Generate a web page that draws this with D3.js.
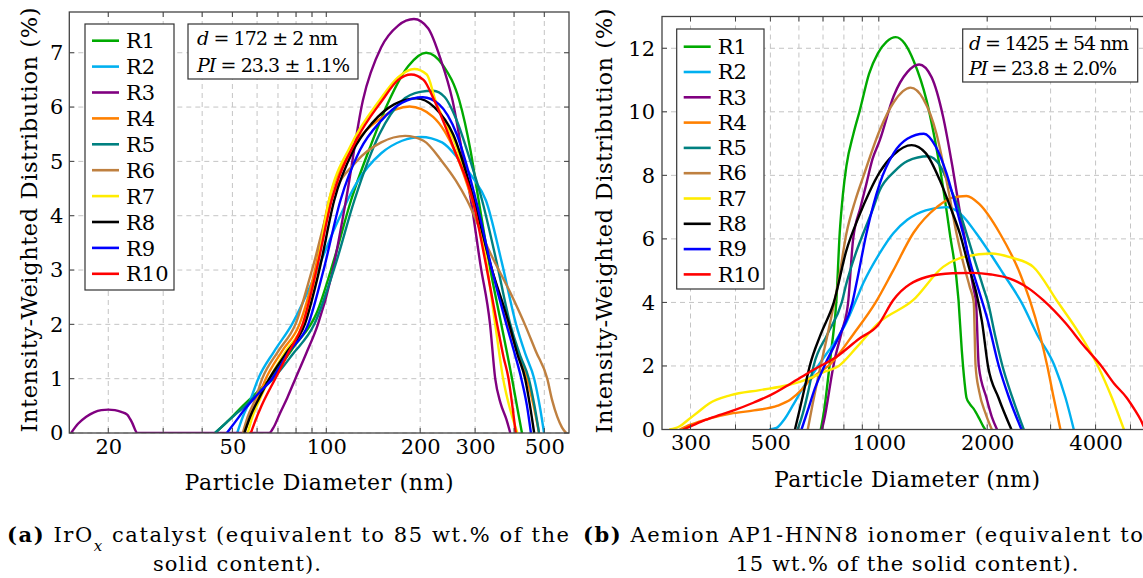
<!DOCTYPE html>
<html>
<head>
<meta charset="utf-8">
<script src="https://cdn.jsdelivr.net/npm/d3@7"></script>
<style>
  body { margin: 0; background: #fff; }
  text { font-family: "DejaVu Serif", "Liberation Serif", serif; fill: #000; }
</style>
</head>
<body>
<div id="chart"></div>
<script>
// ---- data: [diameter (nm), distribution (%)] ----
var runLabels = ["R1", "R2", "R3", "R4", "R5", "R6", "R7", "R8", "R9", "R10"];
var runColors = ["#00aa00", "#00b0f0", "#800080", "#ff8000", "#008080",
                 "#bf8040", "#ffec00", "#000000", "#0000ff", "#ff0000"];

// (a) IrOx catalyst
var iroxR1 = [[44,0],[49,0.25],[54,0.5],[60,0.75],[66,1],[79,1.6],[93,2.2],[106,3.2],[120,4.28],[139,5.3],[159,6.12],[183,6.75],[209,7.0],[238,6.75],[267,6.12],[290,5.2],[308,4.28],[336,3.0],[364,2],[394,1],[410,0.45],[424,0]];
var iroxR2 = [[51.8,0],[54,0.3],[57,0.6],[60.5,1],[68,1.5],[77.6,2],[92,2.9],[107,3.8],[125,4.6],[150,5.15],[175,5.38],[201,5.45],[235,5.35],[265,5.05],[295,4.7],[325,4.28],[365,3.15],[406,2.0],[435,1.45],[464,1],[485,0.45],[499,0]];
var iroxR3 = [[15.2,0],[16,0.17],[17,0.3],[18,0.38],[19,0.42],[20,0.43],[21,0.42],[22,0.39],[23,0.34],[23.8,0.2],[24.8,0],[40,0],[65.6,0],[68,0.12],[71,0.36],[75,0.65],[79.6,1],[86,1.45],[94,2],[104,2.9],[115.6,4.28],[131,6.12],[150,7.1],[170,7.5],[191,7.62],[212,7.45],[232,6.9],[254,6.12],[272,5.2],[291,4.28],[312,3.1],[335,2],[348,1],[362,0.55],[378,0.25],[389,0]];
var iroxR4 = [[54.6,0],[57,0.3],[60,0.6],[64,1],[72,1.5],[82,2],[92,3.0],[102,4.28],[120,5.2],[150,5.8],[185,6.01],[220,5.82],[260,5.15],[294,4.28],[340,3.0],[383,2],[415,1.4],[440,1],[462,0.5],[481,0]];
var iroxR5 = [[44,0],[48,0.2],[52,0.38],[55,0.5],[60,0.72],[67.6,1],[78,1.45],[91.5,2],[107,3.1],[123,4.28],[148,5.5],[175,6.12],[200,6.28],[220,6.3],[240,6.18],[260,5.8],[290,5.0],[316,4.28],[350,3.2],[389,2],[420,1.4],[446,1],[465,0.5],[481,0]];
var iroxR6 = [[54,0],[56,0.3],[59,0.6],[62.3,1],[70,1.5],[79.6,2],[90,3.0],[103.5,4.28],[125,5.0],[150,5.35],[179,5.47],[205,5.38],[235,5.0],[260,4.65],[283,4.28],[330,3.4],[400,2.44],[433,2],[470,1.5],[511,1],[530,0.6],[550,0.3],[570,0.1],[588,0]];
var iroxR7 = [[56,0],[58,0.3],[61,0.6],[65.7,1],[74,1.5],[84,2],[93,3.0],[102,4.28],[120,5.3],[148,6.12],[170,6.55],[191.5,6.7],[210,6.6],[224,6.12],[260,5.3],[296,4.28],[325,3.2],[348,2],[369,1],[390,0.4],[410,0]];
var iroxR8 = [[54.6,0],[57,0.3],[61,0.65],[65.7,1],[75,1.5],[85.3,2],[95,3.0],[106,4.28],[122,5.2],[140,5.7],[165,6.05],[194,6.16],[222,6.0],[255,5.5],[298,4.28],[340,3.0],[372,2.3],[386,2],[410,1.45],[434,1],[450,0.5],[464,0]];
var iroxR9 = [[48,0],[51,0.2],[55,0.45],[60,0.7],[67,1],[76,1.5],[87.5,2],[98,3.0],[111,4.28],[128,5.2],[150,5.75],[175,6.08],[204,6.18],[230,6.05],[262,5.5],[302,4.28],[340,3.0],[378,2],[400,1.5],[422,1],[440,0.5],[453,0]];
var iroxR10 = [[57.3,0],[59,0.2],[62,0.5],[68.6,1],[76,1.5],[84,2],[93,3.0],[104,4.28],[125,5.4],[151,6.12],[170,6.5],[187,6.6],[205,6.5],[222,6.12],[258,5.2],[295,4.28],[325,3.1],[353,2],[370,1.4],[384,1],[396,0.45],[405,0]];

// (b) Aemion AP1-HNN8 ionomer
var ionoR1 = [[690,0],[705,0.6],[722,1.55],[740,2.6],[762,4],[779,6.2],[795,7.4],[813,8.3],[850,9.3],[886,10.05],[940,11.2],[994,11.84],[1050,12.2],[1115,12.35],[1180,12.15],[1250,11.6],[1357,10.36],[1477,8.26],[1575,6.17],[1665,4.07],[1700,2.5],[1730,1.5],[1752,1.0],[1790,0.8],[1835,0.65],[1900,0.35],[1950,0.1],[1975,0]];
var ionoR2 = [[497,0],[520,0.05],[545,0.3],[580,0.8],[615,1.3],[660,1.8],[706,2.29],[760,2.8],[810,3.34],[870,4.15],[905,4.6],[1006,5.55],[1096,6.17],[1200,6.6],[1350,6.9],[1548,7.0],[1700,6.75],[1867,6.17],[2050,5.5],[2215,4.91],[2490,4.0],[2750,3.0],[3078,2],[3300,1.0],[3480,0]];
var ionoR3 = [[695,0],[708,0.4],[722,0.95],[735,1.5],[748,2],[790,3.1],[822,4.0],[848,5.96],[890,7.0],[924,7.74],[960,8.5],[1006,9.1],[1100,10.5],[1200,11.25],[1294,11.49],[1400,11.1],[1509,9.84],[1600,8.3],[1679,6.86],[1760,5.6],[1828,4.49],[1862,4.0],[1895,2],[1990,1],[2060,0.4],[2130,0]];
var ionoR4 = [[280,0],[300,0.15],[340,0.35],[388,0.5],[450,0.6],[524,0.75],[570,0.95],[610,1.25],[643,1.55],[740,2.1],[850,3.0],[980,4.0],[1096,5.0],[1250,6.2],[1450,7.0],[1600,7.3],[1752,7.35],[1900,7.1],[2170,6.17],[2465,4.92],[2627,4.07],[2800,3.0],[2937,2],[3060,1.0],[3195,0]];
var ionoR5 = [[595,0],[615,0.5],[637,1.2],[659,2],[720,3.0],[789,4],[813,4.6],[860,5.5],[905,6.17],[960,6.9],[1006,7.53],[1100,8.1],[1200,8.45],[1371,8.6],[1480,8.3],[1575,7.64],[1660,7.0],[1752,6.17],[1850,5.3],[1948,4.49],[2010,4.0],[2100,3.0],[2205,2],[2350,1.0],[2527,0]];
var ionoR6 = [[635,0],[655,0.8],[680,1.7],[705,2.5],[740,3.6],[771,4.6],[813,6.17],[860,7.2],[905,7.95],[1006,9.42],[1100,10.3],[1225,10.76],[1330,10.4],[1446,9.31],[1550,7.7],[1644,6.17],[1720,5.2],[1789,4.49],[1835,4],[1857,2],[1900,1.2],[1980,0.5],[2060,0]];
var ionoR7 = [[262,0],[280,0.1],[295,0.3],[315,0.55],[338,0.82],[388,1.08],[467,1.24],[561,1.4],[640,1.6],[700,1.8],[774,2.0],[870,2.6],[997,3.35],[1245,4.07],[1509,5.12],[1750,5.45],[2055,5.54],[2350,5.4],[2684,5.12],[3117,4.07],[3702,2.81],[4058,2],[4440,1],[4795,0]];
var ionoR8 = [[585,0],[605,0.7],[625,1.4],[643,2],[690,3.0],[750,4.0],[813,5.64],[880,6.7],[944,7.5],[1006,8.1],[1100,8.65],[1233,8.95],[1350,8.7],[1477,7.85],[1580,7.0],[1679,6.17],[1780,5.1],[1867,4.28],[1934,3.4],[2010,2],[2150,1.0],[2335,0]];
var ionoR9 = [[610,0],[635,0.6],[665,1.3],[706,2],[780,3.0],[845,4.0],[867,4.6],[924,6.17],[1006,7.74],[1100,8.7],[1200,9.15],[1334,9.31],[1440,8.9],[1542,8.06],[1630,7.1],[1714,6.17],[1800,5.2],[1907,4.28],[2000,3.5],[2154,2],[2300,1.0],[2490,0]];
var ionoR10 = [[286,0],[300,0.1],[330,0.3],[360,0.45],[397,0.61],[450,0.85],[500,1.08],[570,1.45],[643,1.81],[774,2.34],[880,2.85],[997,3.3],[1096,4.07],[1357,4.8],[1600,4.92],[1828,4.93],[2050,4.88],[2311,4.75],[2600,4.45],[2862,4.07],[3300,3.35],[3700,2.65],[4150,2],[4500,1.45],[4880,1],[5150,0.6],[5340,0.3],[5480,0.05],[5600,0]];

var iroxRuns = [iroxR1, iroxR2, iroxR3, iroxR4, iroxR5, iroxR6, iroxR7, iroxR8, iroxR9, iroxR10];
var ionoRuns = [ionoR1, ionoR2, ionoR3, ionoR4, ionoR5, ionoR6, ionoR7, ionoR8, ionoR9, ionoR10];

// axes
var iroxXTicks = [20, 50, 100, 200, 300, 500];
var iroxXGrid = [20, 30, 40, 50, 60, 70, 80, 90, 100, 200, 300, 400, 500];
var iroxYTicks = [0, 1, 2, 3, 4, 5, 6, 7];
var ionoXTicks = [300, 500, 1000, 2000, 4000];
var ionoXGrid = [300, 400, 500, 600, 700, 800, 900, 1000, 2000, 3000, 4000, 5000];
var ionoYTicks = [0, 2, 4, 6, 8, 10, 12];

var iroxStats = ["172 \u00b1 2 nm", "23.3 \u00b1 1.1%"];
var ionoStats = ["1425 \u00b1 54 nm", "23.8 \u00b1 2.0%"];

var serif = "'DejaVu Serif', 'Liberation Serif', serif";

var svg = d3.select("#chart").append("svg")
    .attr("width", 1143)
    .attr("height", 578);

function drawPanel(p) {
    var xScale = d3.scaleLog().domain(p.xDomain).range([p.left, p.right]);
    var yScale = d3.scaleLinear().domain(p.yDomain).range([p.bottom, p.top]);
    var g = svg.append("g");

    g.append("clipPath").attr("id", p.id + "-clip")
        .append("rect")
        .attr("x", p.left).attr("y", p.top)
        .attr("width", p.right - p.left).attr("height", p.bottom - p.top);

    // dashed grid
    g.selectAll(".vgrid").data(p.xGrid).enter().append("line")
        .attr("x1", function (d) { return xScale(d); })
        .attr("x2", function (d) { return xScale(d); })
        .attr("y1", p.top).attr("y2", p.bottom)
        .style("stroke", "#c4c4c4").style("stroke-width", 1)
        .style("stroke-dasharray", "5,4");
    g.selectAll(".hgrid").data(p.yTicks).enter().append("line")
        .attr("x1", p.left).attr("x2", p.right)
        .attr("y1", function (d) { return yScale(d); })
        .attr("y2", function (d) { return yScale(d); })
        .style("stroke", "#c4c4c4").style("stroke-width", 1)
        .style("stroke-dasharray", "5,4");

    // curves
    var line = d3.line()
        .x(function (d) { return xScale(d[0]); })
        .y(function (d) { return yScale(d[1]); })
        .curve(d3.curveMonotoneX);
    g.append("g").attr("clip-path", "url(#" + p.id + "-clip)")
        .selectAll("path").data(p.runs).enter().append("path")
        .attr("d", line)
        .style("fill", "none")
        .style("stroke", function (d, i) { return runColors[i]; })
        .style("stroke-width", 2.4)
        .style("stroke-linejoin", "round");

    // frame + inner ticks
    g.append("rect")
        .attr("x", p.left).attr("y", p.top)
        .attr("width", p.right - p.left).attr("height", p.bottom - p.top)
        .style("fill", "none").style("stroke", "#444").style("stroke-width", 1.3);
    var tk = 5;
    g.selectAll(".xtick").data(p.xGrid).enter().append("path")
        .attr("d", function (d) {
            var x = xScale(d);
            return "M" + x + "," + p.bottom + "v" + (-tk) + "M" + x + "," + p.top + "v" + tk;
        })
        .style("stroke", "#444").style("stroke-width", 1);
    g.selectAll(".ytick").data(p.yTicks).enter().append("path")
        .attr("d", function (d) {
            var y = yScale(d);
            return "M" + p.left + "," + y + "h" + tk + "M" + p.right + "," + y + "h" + (-tk);
        })
        .style("stroke", "#444").style("stroke-width", 1);

    // tick labels via d3 axes
    var xAxis = d3.axisBottom(xScale).tickValues(p.xTicks)
        .tickFormat(d3.format("d")).tickSize(0).tickPadding(6);
    var gx = g.append("g").attr("transform", "translate(0," + p.bottom + ")").call(xAxis);
    gx.select(".domain").remove();
    gx.selectAll("text").style("font-size", "21px")
        .style("font-family", serif).attr("fill", "#000");

    var yAxis = d3.axisLeft(yScale).tickValues(p.yTicks)
        .tickFormat(d3.format("d")).tickSize(0).tickPadding(p.yPad);
    var gy = g.append("g").attr("transform", "translate(" + p.left + ",0)").call(yAxis);
    gy.select(".domain").remove();
    gy.selectAll("text").style("font-size", "21px")
        .style("font-family", serif).attr("fill", "#000");

    // axis titles
    g.append("text")
        .attr("x", p.xTitleX).attr("y", p.xTitleY)
        .attr("text-anchor", "middle")
        .attr("textLength", p.xTitleLen).attr("lengthAdjust", "spacing")
        .style("font-size", "22px")
        .text("Particle Diameter (nm)");
    g.append("text")
        .attr("transform", "translate(" + p.yTitleX + "," + p.yTitleY + ") rotate(-90)")
        .attr("text-anchor", "middle")
        .attr("textLength", 425).attr("lengthAdjust", "spacing")
        .style("font-size", "22.5px")
        .text("Intensity-Weighted Distribution (%)");

    // legend
    var lg = p.legend;
    g.append("rect")
        .attr("x", lg.x).attr("y", lg.y).attr("width", lg.w).attr("height", lg.h)
        .style("fill", "#fff").style("stroke", "#333").style("stroke-width", 1.2);
    var items = g.selectAll(".leg").data(runLabels).enter().append("g")
        .attr("transform", function (d, i) {
            return "translate(" + lg.x + "," + (lg.first + i * lg.step) + ")";
        });
    items.append("line")
        .attr("x1", 7).attr("x2", 34).attr("y1", 0).attr("y2", 0)
        .style("stroke", function (d, i) { return runColors[i]; })
        .style("stroke-width", 2.6);
    items.append("text")
        .attr("x", 41).attr("y", lg.base)
        .style("font-size", "21px")
        .text(function (d) { return d; });

    // stats box
    var sb = p.stats;
    g.append("rect")
        .attr("x", sb.x).attr("y", sb.y).attr("width", sb.w).attr("height", sb.h)
        .style("fill", "#fff").style("stroke", "#333").style("stroke-width", 1.2);
    var t1 = g.append("text").attr("x", sb.tx).attr("y", sb.b1)
        .attr("textLength", sb.len1).attr("lengthAdjust", "spacing")
        .style("font-size", "19px");
    t1.append("tspan").style("font-style", "italic").text("d");
    t1.append("tspan").text(" = " + p.statText[0]);
    var t2 = g.append("text").attr("x", sb.tx).attr("y", sb.b2)
        .attr("textLength", sb.len2).attr("lengthAdjust", "spacing")
        .style("font-size", "19px");
    t2.append("tspan").style("font-style", "italic").text("PI");
    t2.append("tspan").text(" = " + p.statText[1]);
}

drawPanel({
    id: "irox", runs: iroxRuns,
    xDomain: [15, 600], yDomain: [0, 7.75],
    left: 69.3, right: 569, top: 12, bottom: 433,
    xTicks: iroxXTicks, xGrid: iroxXGrid, yTicks: iroxYTicks, yPad: 6,
    xTitleX: 319, xTitleY: 490, xTitleLen: 269,
    yTitleX: 37, yTitleY: 220,
    legend: { x: 85, y: 24, w: 89, h: 266, first: 40.7, step: 25.9, base: 7.6 },
    stats: { x: 188, y: 24, w: 170, h: 55, tx: 197, b1: 45, b2: 71.5, len1: 141, len2: 153 },
    statText: iroxStats
});

drawPanel({
    id: "iono", runs: ionoRuns,
    xDomain: [250, 6000], yDomain: [0, 13],
    left: 662, right: 1159, top: 16.5, bottom: 429.5,
    xTicks: ionoXTicks, xGrid: ionoXGrid, yTicks: ionoYTicks, yPad: 7,
    xTitleX: 907, xTitleY: 487, xTitleLen: 266,
    yTitleX: 612, yTitleY: 221,
    legend: { x: 676.7, y: 29, w: 87.3, h: 260, first: 46.7, step: 25.3, base: 7.2 },
    stats: { x: 962.7, y: 29, w: 175, h: 53, tx: 969, b1: 50, b2: 75, len1: 160, len2: 148 },
    statText: ionoStats
});

// captions
var capA = svg.append("text").attr("x", 7).attr("y", 542)
    .attr("textLength", 562).attr("lengthAdjust", "spacing")
    .style("font-size", "21px");
capA.append("tspan").style("font-weight", "bold").text("(a)");
capA.append("tspan").text(" IrO");
capA.append("tspan").attr("baseline-shift", "sub").style("font-size", "15px")
    .style("font-style", "italic").text("x");
capA.append("tspan").text(" catalyst (equivalent to 85 wt.% of the");
svg.append("text").attr("x", 237).attr("y", 571)
    .attr("text-anchor", "middle")
    .attr("textLength", 168).attr("lengthAdjust", "spacing")
    .style("font-size", "21px")
    .text("solid content).");

var capB = svg.append("text").attr("x", 583).attr("y", 542)
    .attr("textLength", 560).attr("lengthAdjust", "spacing")
    .style("font-size", "21px");
capB.append("tspan").style("font-weight", "bold").text("(b)");
capB.append("tspan").text(" Aemion AP1-HNN8 ionomer (equivalent to");
svg.append("text").attr("x", 907).attr("y", 571)
    .attr("text-anchor", "middle")
    .attr("textLength", 343).attr("lengthAdjust", "spacing")
    .style("font-size", "21px")
    .text("15 wt.% of the solid content).");
</script>
</body>
</html>
